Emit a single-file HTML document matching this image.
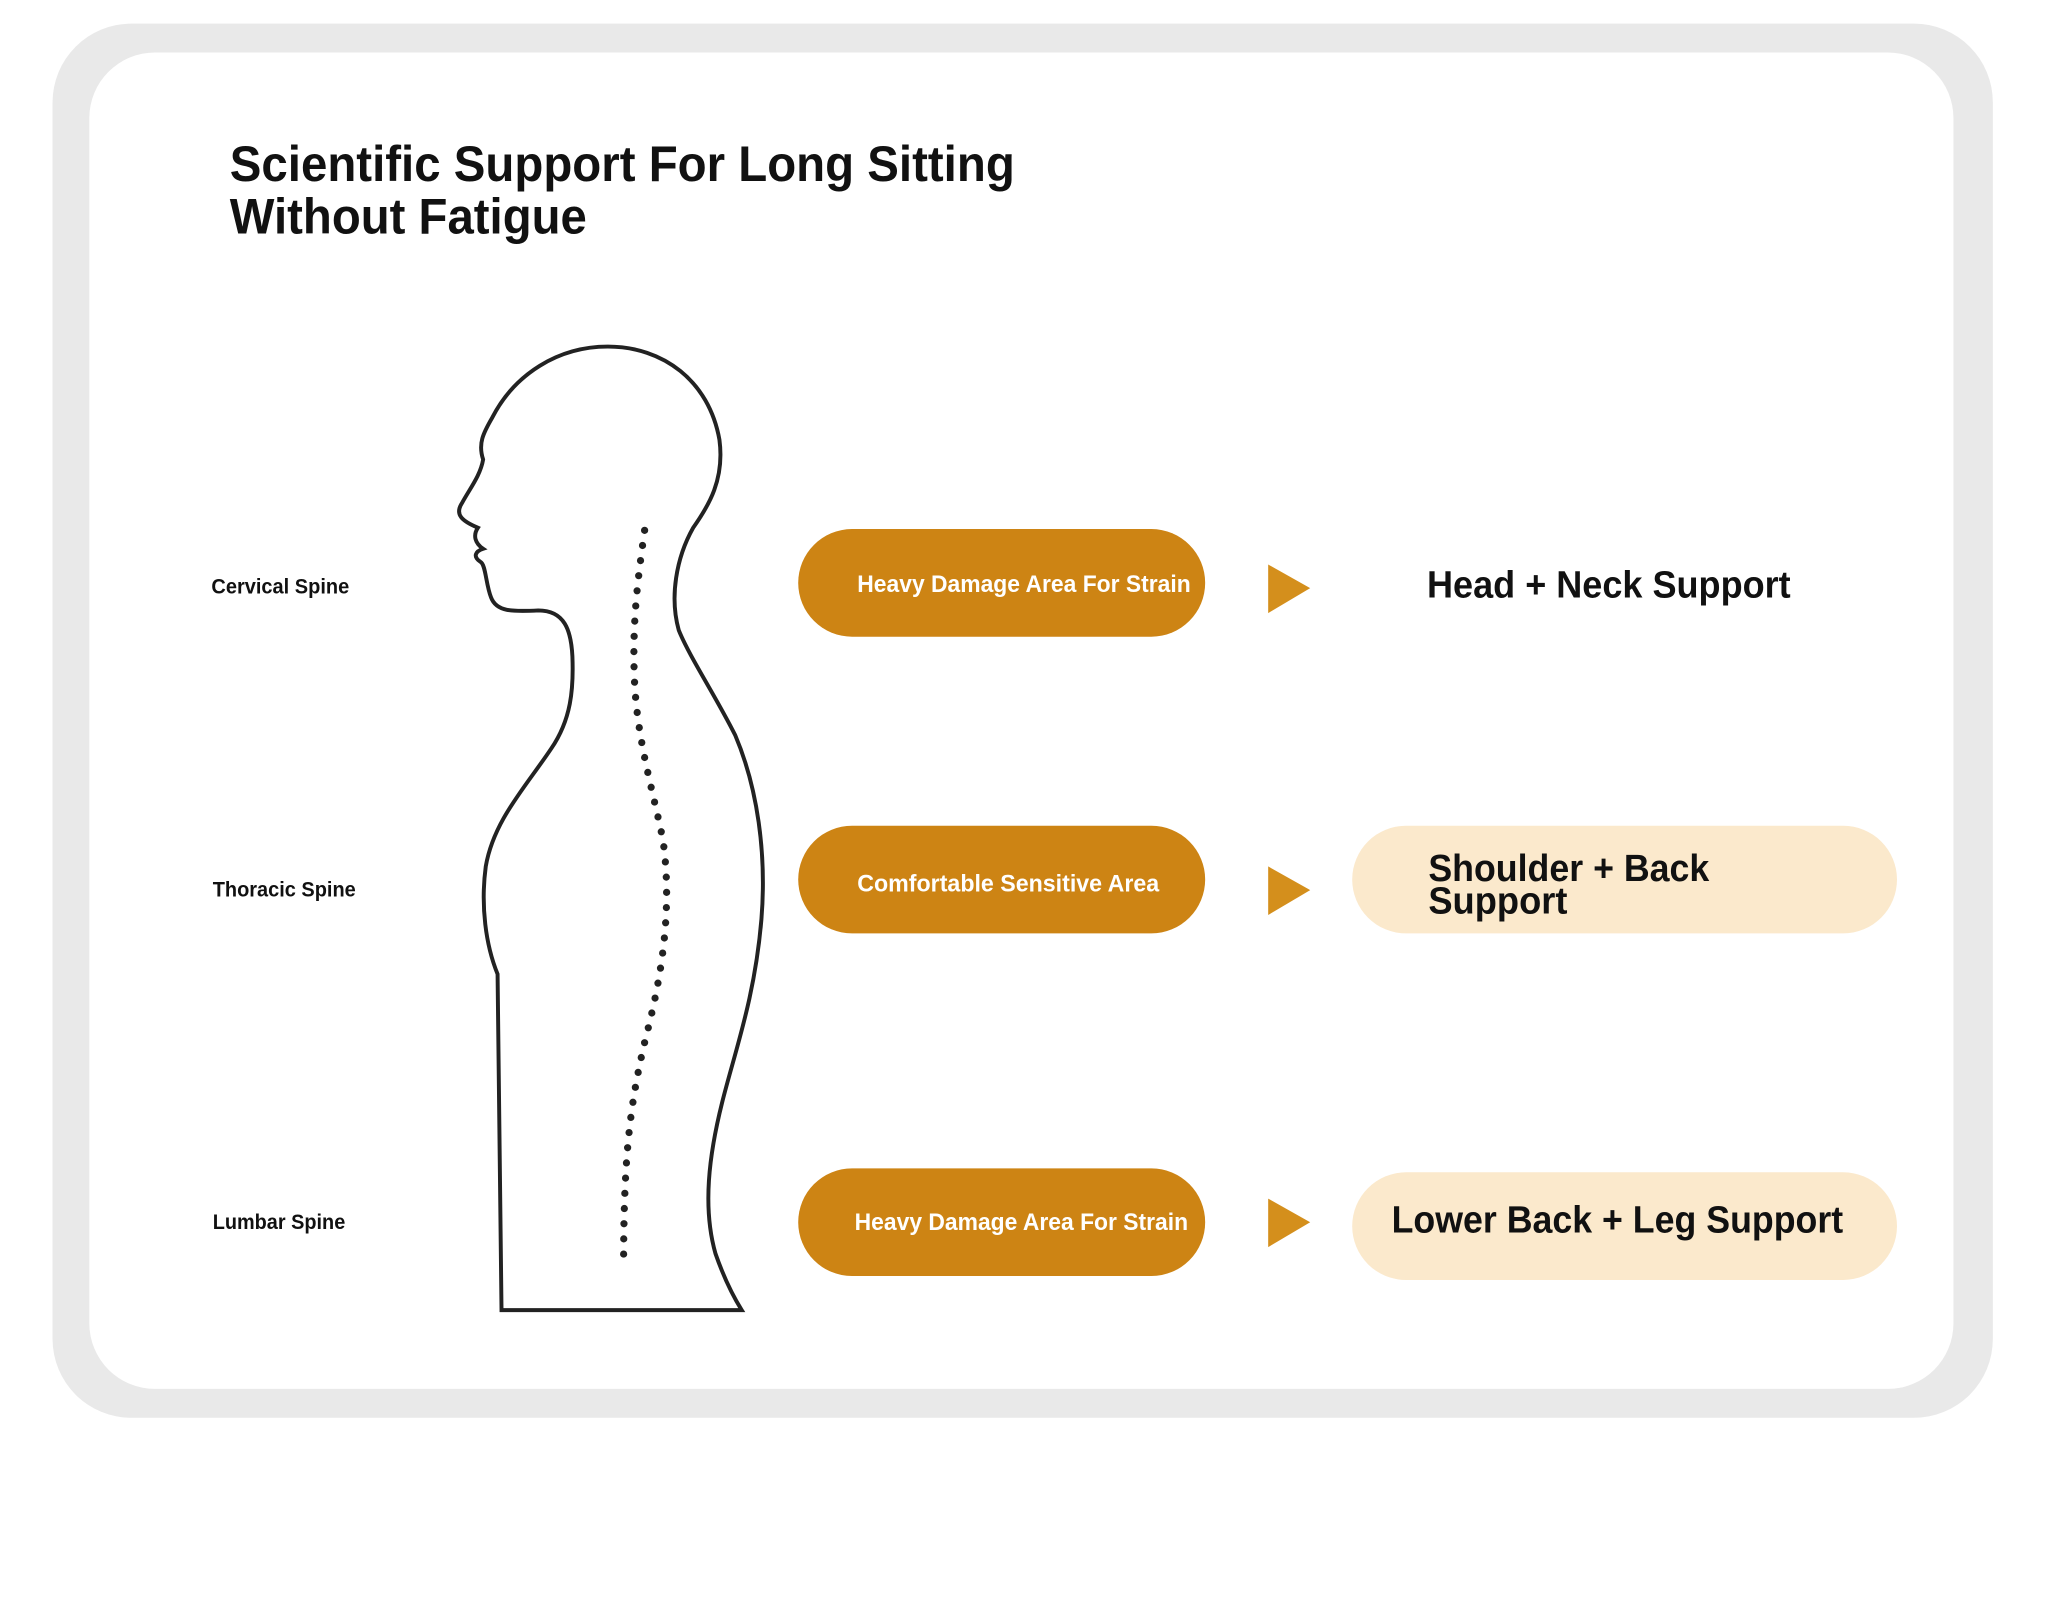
<!DOCTYPE html>
<html><head><meta charset="utf-8"><style>html,body{margin:0;padding:0;background:#fff}svg{display:block}</style></head>
<body>
<svg width="2048" height="1618" viewBox="0 0 1560 1232.5" xmlns="http://www.w3.org/2000/svg" font-family="'Liberation Sans', sans-serif" font-weight="bold">
<rect x="40" y="18" width="1478" height="1062" rx="60" fill="#e9e9e9"/>
<rect x="68" y="40" width="1420" height="1018" rx="50" fill="#fff"/>
<text x="175" y="138" font-size="38" fill="#111" textLength="598" lengthAdjust="spacingAndGlyphs">Scientific Support For Long Sitting</text>
<text x="175" y="178" font-size="38" fill="#111" textLength="272" lengthAdjust="spacingAndGlyphs">Without Fatigue</text>
<text x="161" y="452" font-size="16" fill="#111" textLength="105" lengthAdjust="spacingAndGlyphs">Cervical Spine</text>
<text x="162" y="683" font-size="16" fill="#111" textLength="109" lengthAdjust="spacingAndGlyphs">Thoracic Spine</text>
<text x="162" y="936" font-size="16" fill="#111" textLength="101" lengthAdjust="spacingAndGlyphs">Lumbar Spine</text>
<path d="M463,264 C505,264 540,290 548,335 C552,365 540,385 528,402 C515,425 510,455 517,480 C525,500 545,530 560,560 C577,600 584,650 580,700 C575,760 560,800 550,840 C540,880 535,920 545,955 C552,975 560,990 565,998 L382,998 L379,742 C370,720 366,690 370,660 C376,625 400,600 420,570 C435,548 437,525 436,500 C435,480 430,465 410,465 C390,466 378,466 374,455 C370,445 370,430 366,428 C360,424 362,420 368,418 C362,414 360,408 364,402 C352,397 346,392 352,383 C358,372 366,362 368,350 C364,338 368,330 375,318 C392,285 425,264 463,264 Z" fill="none" stroke="#222" stroke-width="3"/>
<path d="M491,404 C486,440 482,470 483,510 C484,560 497,600 505,640 C512,690 505,740 492,790 C480,840 475,880 475,964" fill="none" stroke="#222" stroke-width="5.5" stroke-linecap="round" stroke-dasharray="0 11.6"/>
<g fill="#cd8414">
<rect x="608" y="403" width="310" height="82" rx="41"/>
<rect x="608" y="629" width="310" height="82" rx="41"/>
<rect x="608" y="890" width="310" height="82" rx="41"/>
</g>
<g fill="#fff" font-size="18">
<text x="653" y="451" textLength="254" lengthAdjust="spacingAndGlyphs">Heavy Damage Area For Strain</text>
<text x="653" y="679" textLength="230" lengthAdjust="spacingAndGlyphs">Comfortable Sensitive Area</text>
<text x="651" y="937" textLength="254" lengthAdjust="spacingAndGlyphs">Heavy Damage Area For Strain</text>
</g>
<g fill="#d48f1c">
<polygon points="966,430 998,448 966,467"/>
<polygon points="966,660 998,678 966,697"/>
<polygon points="966,913 998,931 966,950"/>
</g>
<rect x="1030" y="629" width="415" height="82" rx="41" fill="#fbe9cc"/>
<rect x="1030" y="893" width="415" height="82" rx="41" fill="#fbe9cc"/>
<g fill="#111" font-size="29">
<text x="1087" y="455" textLength="277" lengthAdjust="spacingAndGlyphs">Head + Neck Support</text>
<text x="1088" y="671" textLength="214" lengthAdjust="spacingAndGlyphs">Shoulder + Back</text>
<text x="1088" y="696" textLength="106" lengthAdjust="spacingAndGlyphs">Support</text>
<text x="1060" y="939" textLength="344" lengthAdjust="spacingAndGlyphs">Lower Back + Leg Support</text>
</g>
</svg>
</body></html>
